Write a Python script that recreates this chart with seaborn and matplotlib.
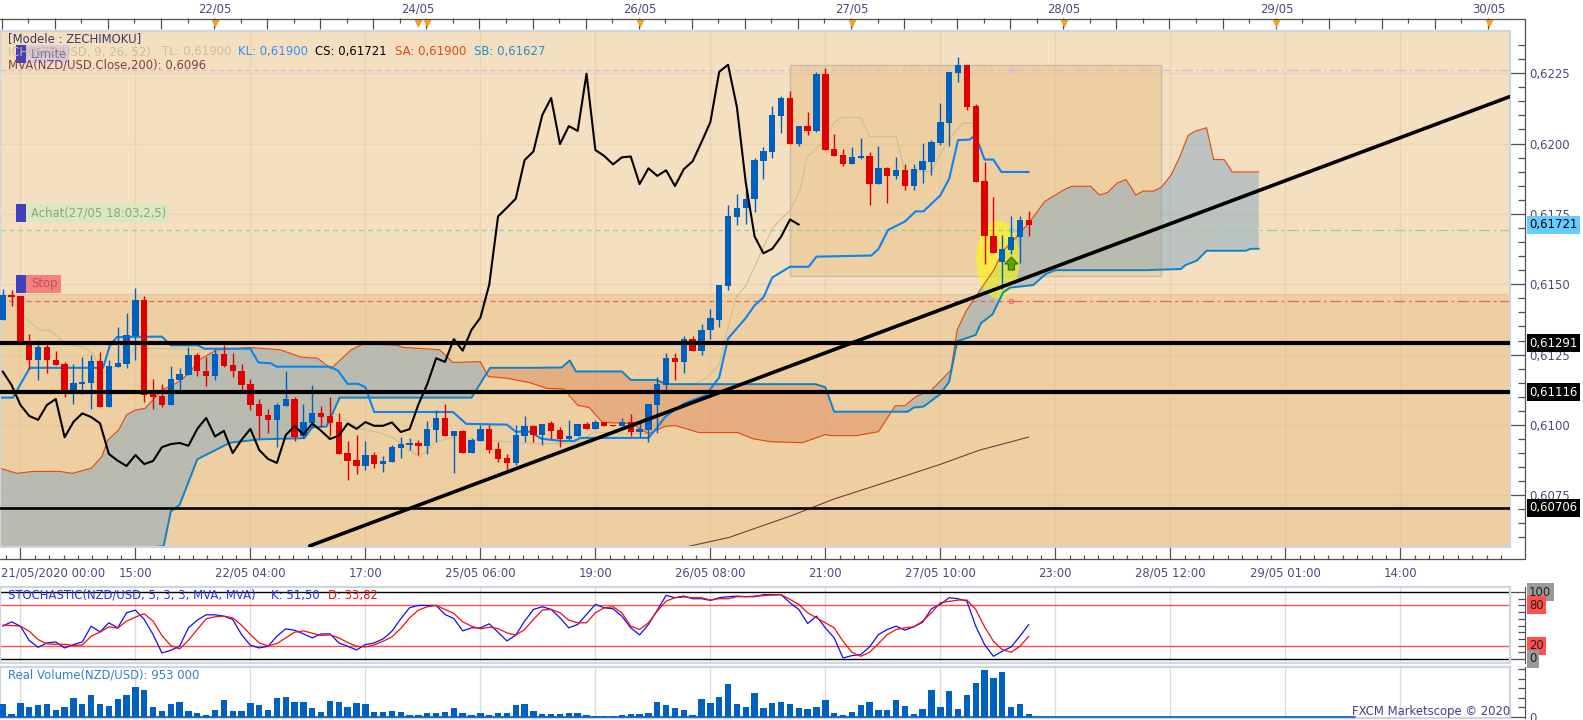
import numpy as np
import matplotlib
matplotlib.use("Agg")
import matplotlib.pyplot as plt
import matplotlib.transforms as mtrans
from matplotlib.lines import Line2D
from matplotlib.patches import Ellipse, Polygon, Rectangle
import seaborn as sns

# NZD/USD hourly, all prices in pips (0.6225 -> 6225)
opens = [6137.3, 6146.2, 6145.9, 6129.3, 6122.9, 6127.6, 6123.1, 6121.7, 6111.7, 6114.6,
         6115.0, 6122.8, 6106.5, 6120.6, 6121.8, 6131.6, 6144.4, 6111.0, 6110.3, 6107.2,
         6116.0, 6117.8, 6124.9, 6119.1, 6117.4, 6125.2, 6121.3, 6119.2, 6114.6, 6107.5,
         6103.5, 6101.8, 6106.8, 6109.2, 6095.9, 6100.6, 6104.1, 6103.2, 6101.1, 6090.0,
         6087.6, 6085.4, 6089.3, 6086.1, 6086.8, 6091.8, 6092.9, 6093.6, 6092.5, 6098.2,
         6102.5, 6095.9, 6097.9, 6090.0, 6094.3, 6098.6, 6091.5, 6088.3, 6086.5, 6096.1,
         6099.5, 6096.3, 6100.7, 6098.1, 6095.0, 6096.0, 6100.5, 6098.6, 6101.0, 6099.9,
         6099.7, 6100.9, 6097.4, 6098.2, 6107.0, 6114.2, 6123.7, 6122.4, 6130.5, 6126.4,
         6133.6, 6137.4, 6149.4, 6173.8, 6177.0, 6180.3, 6193.8, 6197.0, 6209.9, 6216.2,
         6199.8, 6206.2, 6204.3, 6224.8, 6198.0, 6195.8, 6192.6, 6194.8, 6195.5, 6185.6,
         6191.2, 6188.5, 6190.5, 6184.9, 6190.5, 6193.3, 6200.1, 6207.3, 6225.2, 6228.0,
         6213.3, 6186.6, 6167.3, 6157.8, 6162.2, 6166.7, 6173.0]
closes = [6146.2, 6145.6, 6128.8, 6122.9, 6127.6, 6122.9, 6121.3, 6111.8, 6114.8, 6115.3,
          6122.8, 6106.5, 6121.0, 6121.9, 6132.0, 6144.4, 6110.8, 6110.0, 6107.2, 6116.4,
          6118.1, 6124.9, 6119.0, 6117.5, 6125.2, 6121.0, 6119.0, 6114.2, 6107.1, 6103.2,
          6101.8, 6107.1, 6109.2, 6095.6, 6101.1, 6104.1, 6102.8, 6100.6, 6089.7, 6087.3,
          6085.4, 6089.3, 6086.1, 6087.2, 6092.1, 6093.2, 6093.6, 6092.6, 6098.6, 6102.5,
          6095.9, 6097.9, 6090.0, 6094.7, 6098.6, 6091.1, 6087.9, 6086.5, 6096.4, 6099.6,
          6096.6, 6100.5, 6097.9, 6095.0, 6096.2, 6100.5, 6098.6, 6101.0, 6099.7, 6099.7,
          6100.9, 6097.5, 6098.5, 6107.3, 6114.5, 6123.7, 6122.4, 6130.5, 6126.4, 6133.8,
          6138.1, 6149.8, 6174.1, 6177.2, 6180.4, 6194.1, 6197.2, 6210.1, 6216.2, 6199.8,
          6206.2, 6204.5, 6224.8, 6197.7, 6195.6, 6192.6, 6195.1, 6195.4, 6185.6, 6191.2,
          6188.5, 6190.5, 6184.9, 6190.9, 6193.7, 6200.5, 6207.6, 6225.5, 6228.0, 6213.0,
          6186.2, 6167.0, 6161.0, 6162.6, 6166.9, 6173.0, 6171.2]
highs = [6148.3, 6148.0, 6145.9, 6132.3, 6130.2, 6129.7, 6126.3, 6122.5, 6121.7, 6124.1,
         6124.9, 6125.8, 6123.1, 6134.7, 6139.7, 6148.6, 6145.9, 6116.2, 6114.6, 6121.0,
         6120.1, 6127.6, 6125.5, 6124.1, 6126.9, 6128.4, 6125.7, 6121.7, 6116.2, 6109.1,
         6105.6, 6107.7, 6119.0, 6110.1, 6107.5, 6114.2, 6106.8, 6110.1, 6104.4, 6094.3,
         6096.4, 6094.3, 6090.4, 6089.0, 6092.9, 6095.6, 6095.3, 6094.7, 6101.4, 6105.3,
         6107.5, 6097.9, 6098.2, 6095.3, 6100.0, 6100.0, 6093.9, 6089.7, 6100.0, 6103.2,
         6099.9, 6100.5, 6101.3, 6099.3, 6101.7, 6100.5, 6101.0, 6101.7, 6101.0, 6100.0,
         6102.3, 6103.8, 6101.1, 6107.3, 6116.9, 6125.5, 6125.5, 6131.7, 6131.7, 6136.0,
         6141.3, 6149.8, 6178.0, 6181.9, 6183.9, 6194.7, 6198.6, 6213.3, 6216.9, 6218.7,
         6206.2, 6211.2, 6225.4, 6226.8, 6203.3, 6198.0, 6198.7, 6201.9, 6196.9, 6199.0,
         6191.7, 6195.1, 6192.9, 6192.6, 6200.1, 6201.2, 6214.4, 6225.5, 6230.8, 6228.0,
         6214.1, 6193.3, 6180.9, 6167.6, 6174.1, 6174.1, 6175.9]
lows = [6137.3, 6142.3, 6128.8, 6119.8, 6116.0, 6118.6, 6121.3, 6110.1, 6107.5, 6111.0,
        6105.8, 6106.2, 6106.5, 6120.6, 6120.4, 6123.1, 6108.3, 6105.6, 6106.5, 6107.2,
        6112.2, 6117.8, 6117.4, 6113.9, 6116.0, 6120.5, 6117.2, 6111.8, 6105.3, 6095.3,
        6097.3, 6092.3, 6106.8, 6094.4, 6095.3, 6098.8, 6099.2, 6096.1, 6089.7, 6080.4,
        6082.6, 6084.0, 6084.7, 6083.4, 6086.8, 6088.3, 6091.1, 6089.2, 6089.7, 6093.9,
        6095.9, 6083.0, 6090.0, 6090.0, 6094.3, 6090.2, 6087.0, 6083.5, 6085.8, 6093.9,
        6094.0, 6092.8, 6095.1, 6092.2, 6094.5, 6096.0, 6098.6, 6098.6, 6099.7, 6099.6,
        6099.5, 6096.1, 6095.7, 6094.0, 6097.0, 6111.2, 6116.0, 6118.4, 6126.4, 6125.0,
        6130.7, 6134.8, 6147.9, 6171.2, 6171.4, 6175.6, 6187.5, 6194.8, 6203.6, 6199.8,
        6199.2, 6203.0, 6204.1, 6197.7, 6195.6, 6191.9, 6192.6, 6194.5, 6178.0, 6185.6,
        6178.7, 6187.3, 6183.4, 6183.4, 6185.8, 6188.7, 6199.4, 6199.1, 6221.9, 6211.9,
        6186.2, 6157.2, 6161.0, 6148.2, 6160.7, 6157.4, 6167.3]

# ichimoku lines, given at their corners as (bar, price)
kijun_bar = [-0.3, 1.15, 3.06, 11.35, 12.1, 12.9, 18, 19, 22.05, 22.8, 28, 28.9, 30.3, 31, 37, 37.9, 39, 40.2, 41, 42,
             50.9, 52.4, 57, 58, 59.6, 60.9, 63.2, 64.6, 65.3, 73, 73.9, 74.9, 77, 79.5, 81, 82, 84, 85, 86, 87, 89,
             91.1, 92, 98.2, 99, 100.1, 102, 103.2, 104.1, 106, 107, 108, 109.3, 109.8, 110.4, 111, 112, 112.9, 116]
kijun_val = [6109.7, 6109.7, 6120.3, 6120.3, 6128.1, 6131.2, 6131.4, 6128.3, 6128.3, 6127.1, 6127.1, 6122.2, 6121.9,
             6120.7, 6120.7, 6119.3, 6114.6, 6114.6, 6113.4, 6104.6, 6104.6, 6100.4, 6100.1, 6097.6, 6097.6, 6095.1,
             6094.3, 6094.3, 6095.4, 6095.4, 6098.7, 6102.9, 6107.6, 6110.6, 6116.9, 6130.7, 6138.0, 6142.5, 6145.3,
             6152.4, 6156.2, 6156.2, 6159.8, 6160.2, 6162.5, 6169.3, 6172.3, 6175.9, 6175.9, 6181.6, 6187.5, 6201.2,
             6201.4, 6202.6, 6199.4, 6194.3, 6194.3, 6189.9, 6189.9]
tenkan_bar = [0.84, 2.4, 4.1, 5.4, 6.8, 7.7, 9.25, 10.2, 11.2, 12.7, 15, 24.2, 25.7, 28.7, 30.3, 33.3, 35.6, 37.9, 40.2,
              42.9, 44.2, 47.1, 49, 50.9, 59.6, 64.6, 66.9, 68.8, 73, 74.7, 77.6, 79.5, 81, 81.8, 82, 82.9, 84, 86,
              87.1, 89, 90.2, 90.9, 92.8, 94, 94.9, 97, 98, 101, 102, 105, 106, 107.2, 108.5, 109.7, 110.4, 111, 112,
              112.9, 116]
tenkan_val = [6145.6, 6138.5, 6133.8, 6133.5, 6130.0, 6128.4, 6127.6, 6125.2, 6118.1, 6120.7, 6127.3, 6126.7, 6117.2,
              6113.0, 6108.3, 6109.5, 6105.9, 6103.5, 6098.8, 6097.0, 6095.3, 6088.5, 6094.1, 6095.5, 6093.4, 6093.4,
              6097.5, 6097.2, 6096.9, 6110.6, 6113.6, 6116.6, 6121.3, 6132.6, 6134.6, 6145.3, 6149.4, 6163.1, 6170.3,
              6176.2, 6183.9, 6195.2, 6200.6, 6207.4, 6209.3, 6209.3, 6202.5, 6202.5, 6190.1, 6190.1, 6196.4, 6202.4,
              6207.2, 6207.2, 6199.4, 6194.3, 6194.3, 6189.9, 6189.9]
span_a_bar = [-0.3, 1.6, 3.5, 6.4, 7.9, 10, 11.2, 11.9, 13.1, 14, 15, 16.1, 18, 19.6, 21.1, 22.2, 24.2, 28, 31.4, 33.7,
              35.6, 37.1, 39.4, 40.8, 44.6, 45.2, 49.4, 50.9, 54, 54.9, 57, 59.6, 61.5, 63.4, 65, 66.3, 67.8, 71, 73,
              74.9, 76, 78.7, 83.1, 84.8, 86.9, 90.4, 93, 93.6, 96.5, 99, 100.9, 102, 103.2, 105, 107.2, 107.9, 108.9,
              110.4, 112, 113.1, 114.6, 116.2, 117.8, 120.1, 120.9, 123, 124, 124.9, 126, 127, 128.1, 128.9, 130.1,
              131, 132.1, 133.1, 134, 134.8, 136.1, 136.9, 138.1, 139, 142]
span_a_val = [6084.6, 6082.8, 6083.5, 6083.5, 6082.8, 6084.6, 6088.7, 6094.7, 6098.2, 6103.6, 6105.3, 6105.9, 6112.4,
              6114.8, 6118.4, 6123.1, 6126.7, 6127.5, 6126.7, 6124.1, 6123.7, 6120.0, 6126.7, 6128.8, 6128.3, 6127.6,
              6126.7, 6122.2, 6122.5, 6117.2, 6116.6, 6115.0, 6113.0, 6112.8, 6107.0, 6106.2, 6100.9, 6100.5, 6096.9,
              6099.5, 6099.8, 6097.3, 6097.3, 6095.1, 6094.0, 6093.7, 6096.6, 6096.2, 6096.2, 6097.6, 6106.8, 6106.8,
              6110.0, 6112.4, 6119.5, 6133.8, 6140.4, 6147.5, 6154.8, 6161.9, 6166.7, 6172.6, 6179.4, 6183.8, 6184.8,
              6184.8, 6181.7, 6182.6, 6186.0, 6187.2, 6181.7, 6183.1, 6183.1, 6184.5, 6188.9, 6195.5, 6202.9, 6204.4,
              6205.6, 6194.3, 6194.3, 6189.9, 6189.9]
span_b_bar = [-1, 18.2, 19, 20, 22, 25.7, 29.1, 34.1, 35, 36.6, 38.1, 53, 55.1, 59.6, 63.2, 64.1, 64.8, 70, 71, 73.9,
              75, 91.9, 93, 94, 102.3, 103, 104.1, 106, 107, 107.9, 110, 110.6, 111.9, 113.1, 113.9, 116.5, 117.9, 119,
              129.1, 133.2, 133.7, 135, 136.1, 140.5, 141.1, 142]
span_b_val = [6050.0, 6057.0, 6069.2, 6071.6, 6087.8, 6093.7, 6094.9, 6095.3, 6099.2, 6099.4, 6109.7, 6109.7, 6120.3,
              6120.3, 6120.4, 6122.9, 6119.0, 6119.0, 6116.0, 6116.0, 6114.5, 6114.5, 6113.4, 6104.7, 6104.7, 6106.2,
              6106.5, 6111.0, 6115.4, 6129.7, 6132.0, 6136.2, 6139.3, 6147.1, 6148.8, 6149.7, 6153.6, 6155.0, 6155.0,
              6155.4, 6156.8, 6158.4, 6161.9, 6161.9, 6162.6, 6162.6]
mva_bar = [77.3, 82.1, 89.2, 94, 100.5, 106, 110.4, 116]
mva_val = [6056.7, 6060.0, 6067.8, 6073.7, 6080.3, 6086.0, 6091.0, 6095.7]
trend_bar = [34.7, 170.4]
trend_val = [6057.0, 6216.7]
hlines_val = [6129.1, 6111.6, 6070.6]
hlines_txt = ["0,61291", "0,61116", "0,60706"]

stoch_k = [49, 55.5, 49, 27.5, 17.5, 24, 25.5, 16.5, 21.5, 25.5, 49, 40.5, 54, 46.5, 69, 73, 59, 36.5, 9, 13, 19, 46.5,
           58, 66, 66, 64, 59, 36.5, 20.5, 16.5, 19, 34, 45, 43, 37.5, 31.5, 37.5, 37.5, 24, 19, 13.5, 21.5, 24, 30,
           41.5, 60, 76.5, 80, 80, 80, 66.5, 60.5, 42, 46.5, 46.5, 52.5, 40, 27, 35.5, 56.5,
           74, 78, 74, 61.5, 46.5, 51.5, 66.5, 81.5, 76.5, 75, 64, 46.5, 36, 51.5, 73, 95, 91.5, 94, 90, 90, 87.5,
           91.5, 93, 94, 93, 93, 96, 96, 96, 84, 74, 53, 64, 46.5, 31.5, 1.5, 5, 6.5, 18, 36.5, 44, 49, 43, 48, 55,
           75, 81.5, 91.5, 90, 86.5, 49, 21.5, 4, 11.5, 18, 34, 51.5]
stoch_d = [50.5, 50, 49, 41.5, 29, 22.5, 22, 22, 20, 21, 34, 40, 48, 46, 56.5, 62.5, 67.5, 56.5, 35, 20, 15, 28, 44, 60,
           63, 64, 61.5, 50.5, 36.5, 24, 19.5, 23, 31.5, 40, 42, 38.5, 35, 36, 31.5, 24.5, 19, 18, 21, 26.5, 33, 45.5,
           61.5, 73, 78, 80, 74, 68, 55.5, 49, 45, 47.5, 45.5, 39, 35.5, 44,
           59, 73, 74, 69, 58, 54, 54, 69, 76.5, 78, 69, 49, 44, 54, 71.5, 86.5, 91.5, 92.5, 91.5, 91.5, 88, 90, 90,
           93, 93, 94, 94.5, 95.5, 96, 89, 81.5, 69, 61.5, 54, 46.5, 26.5, 10, 4, 10, 23, 36.5, 44, 46.5, 48, 56.5,
           69, 84, 86, 88, 88, 74, 48, 26.5, 14, 10, 19, 33.8]
# real volume in thousands
volume = [4560, 960, 4920, 3480, 4200, 4560, 2400, 3480, 6720, 4560, 7800, 4560, 3840, 6360, 7800, 10680, 9600, 3480,
          2040, 4560, 5280, 2040, 1320, 600, 2400, 6000, 2040, 2040, 4920, 4200, 2400, 6720, 7080, 5280, 5280, 3120,
          1680, 5640, 5280, 3480, 4920, 4560, 1680, 1680, 2040, 1680, 600, 600, 1320, 1320, 1680, 3120, 1320, 600,
          1320, 600, 1320, 1320, 4200, 4560,
          2040, 960, 960, 960, 1320, 1320, 600, 240, 240, 240, 600, 960, 960, 1320, 5280, 4200, 3120, 2400, 600, 6360,
          4920, 7080, 11760, 4560, 3480, 8520, 3120, 4920, 5280, 4560, 3120, 2760, 3480, 6000, 1320, 600, 1680, 4200,
          5280, 2400, 2400, 6000, 3840, 960, 2760, 9600, 3480, 9240, 2760, 7800, 12120, 16800, 13920, 16080, 3480,
          4560, 953]

price_ticks = [6225, 6200, 6175, 6150, 6125, 6100, 6075]
time_bars = [2, 15, 28, 41, 54, 67, 80, 93, 106, 119, 132, 145, 158]
time_txt = ["", "15:00", "22/05 04:00", "17:00", "25/05 06:00", "19:00", "26/05 08:00", "21:00", "27/05 10:00",
            "23:00", "28/05 12:00", "29/05 01:00", "14:00"]
day_bars = [24, 46.9, 72, 96, 120, 144, 168]
day_txt = ["22/05", "24/05", "26/05", "27/05", "28/05", "29/05", "30/05"]
news_bars = [24, 46.9, 48, 72, 96, 120, 144, 168]

W, H = 1583, 720
BG_LIGHT = "#f4dfc0"
BG_DARK = "#eecfa1"
BLUE = "#0060c0"
RED = "#e00000"
TXT = "#4a4a7a"
BORDER = "#cdd5e0"
FS = 8.4

sns.set_theme(style="white")
plt.rcParams["font.family"] = ["DejaVu Sans"]
plt.rcParams["font.size"] = FS

fig = plt.figure(figsize=(W / 100, H / 100), dpi=100, facecolor="white")
PX = mtrans.Affine2D().scale(1 / W, -1 / H).translate(0, 1) + fig.transFigure


def panel(top, bottom):
    ax = fig.add_axes([0, 1 - bottom / H, 1510 / W, (bottom - top) / H])
    ax.set_xlim(-0.305, 170.4)
    for s in ax.spines.values():
        s.set_color(BORDER)
        s.set_linewidth(1.6)
    ax.set_xticks(time_bars, labels=[])
    ax.set_yticks([])
    ax.tick_params(length=0)
    return ax


def right_ticks(ax, major, labels, minor, major_len=11):
    sec = ax.secondary_yaxis(1 + 15 / 1510)
    sec.set_ticks(major, labels=labels)
    sec.set_ticks(minor, minor=True)
    sec.tick_params(which="major", direction="in", length=major_len, width=0.9, color="#505050",
                    labelcolor=TXT, labelsize=FS, pad=3)
    sec.tick_params(which="minor", direction="in", length=5.2, width=0.9, color="#505050")
    sec.spines["right"].set_color("#505050")
    sec.spines["right"].set_linewidth(0.8)
    return sec


def side_label(ax, y, txt, bg, fg):
    ax.text(1529 / 1510, y, txt, transform=ax.get_yaxis_transform(), color=fg, fontsize=FS, va="center", ha="left",
            zorder=20, clip_on=False, bbox=dict(facecolor=bg, edgecolor="none", pad=1.8))


# main price panel
ax = panel(30.7, 546.5)
ax.set_facecolor(BG_LIGHT)
ax.set_ylim(6056.8, 6240.1)
bars = np.arange(len(opens))
o, c, h, l = map(np.array, (opens, closes, highs, lows))

ax.axhspan(6056.8, 6146.4, color=BG_DARK, lw=0, zorder=0)
ax.axhline(6146.4, color="#e0c8a0", lw=0.8, zorder=0.5)
ax.add_patch(Rectangle((89, 6152.9), 42, 75, facecolor=BG_DARK, edgecolor="#c4bcae", lw=1, zorder=0.6))
for t in time_bars:
    ax.axvline(t, color="#d9b98a", alpha=0.3, lw=1, zorder=0.7)
for t in price_ticks:
    ax.axhline(t, color="#d9b98a", alpha=0.3, lw=1, zorder=0.7)

# cloud between the two spans
fine = np.linspace(-0.3, 142, 1500)
sa = np.interp(fine, span_a_bar, span_a_val)
sb = np.interp(fine, span_b_bar, span_b_val)
ax.fill_between(fine, sa, sb, where=sa >= sb, interpolate=True, color="#88a8c0", alpha=0.5, lw=0, zorder=1)
ax.fill_between(fine, sa, sb, where=sa < sb, interpolate=True, color="#e08c60", alpha=0.5, lw=0, zorder=1)
ax.add_patch(Ellipse((112.5, 6158.8), 4.9, 27.6, facecolor="#ffff00", alpha=0.55, edgecolor="none", zorder=1.5))

# order lines, dashed up to the marker and dash-dot after it
for val, col in [(6226.0, "#d8b8e8"), (6169.3, "#98d090"), (6144.0, "#f06060")]:
    ax.plot([-0.3, 114], [val, val], color=col, lw=0.9, ls=(0, (4, 3)), zorder=1.8)
    ax.plot([114, 170.4], [val, val], color=col, lw=0.9, ls=(0, (9, 3, 2, 3)), zorder=1.8)
    ax.plot([114], [val], marker="o", ms=3, mfc="none", mec=col, mew=0.8, zorder=1.8)

line_kw = dict(ax=ax, sort=False, estimator=None, errorbar=None, legend=False)
sns.lineplot(x=tenkan_bar, y=tenkan_val, color="#c8c090", lw=0.8, zorder=2, **line_kw)
sns.lineplot(x=span_a_bar, y=span_a_val, color="#e04a10", lw=0.8, zorder=2.1, **line_kw)
sns.lineplot(x=span_b_bar, y=span_b_val, color="#0a84c8", lw=1.4, zorder=2.1, **line_kw)
sns.lineplot(x=kijun_bar, y=kijun_val, color="#0a84f0", lw=1.5, zorder=2.2, **line_kw)
sns.lineplot(x=mva_bar, y=mva_val, color="#7a3a3a", lw=0.8, zorder=2.2, **line_kw)

up = c >= o
down = ~up
ax.vlines(bars[up], l[up], h[up], color=BLUE, lw=1, zorder=3)
ax.vlines(bars[down], l[down], h[down], color=RED, lw=1, zorder=3)
ax.bar(bars[up], (c - o)[up], bottom=o[up], width=0.72, color=BLUE, lw=0, zorder=3.1)
ax.bar(bars[down], (c - o)[down], bottom=o[down], width=0.72, color=RED, lw=0, zorder=3.1)

# chikou is the close shifted back 26 bars
sns.lineplot(x=bars[:-26], y=c[26:], color="black", lw=1.5, zorder=3.5, **line_kw)

for val, lw in zip(hlines_val, [3, 3, 1.9]):
    ax.axhline(val, color="black", lw=lw, zorder=4)
sns.lineplot(x=trend_bar, y=trend_val, color="black", lw=2.6, zorder=4, **line_kw)
ax.set_xlim(-0.305, 170.4)
ax.set_ylim(6056.8, 6240.1)
ax.set_xlabel("")
ax.set_ylabel("")

sec_main = right_ticks(ax, price_ticks, [f"0,{t}" for t in price_ticks], list(np.arange(6060, 6240, 5)))
sec_main.spines["right"].set_visible(False)
side_label(ax, closes[-1], "0,61721", "#66ccff", "black")
for val, txt in zip(hlines_val, hlines_txt):
    side_label(ax, val, txt, "black", "white")

sec_bot = ax.secondary_xaxis(-12.7 / 515.8)
sec_bot.set_ticks(time_bars, labels=time_txt)
sec_bot.set_ticks(np.arange(-11, 171, 13 / 8), minor=True)
sec_bot.tick_params(which="major", direction="in", length=9.5, width=0.9, color="#505050",
                    labelcolor=TXT, labelsize=FS, pad=5.5)
sec_bot.tick_params(which="minor", direction="in", length=2.8, width=0.9, color="#505050")
sec_bot.spines["bottom"].set_visible(False)

sec_top = ax.secondary_xaxis(1 + 12.2 / 515.8)
sec_top.set_ticks(list(np.arange(-0.1, 171, 6)), labels=[])
sec_top.set_ticks(list(np.arange(2.9, 171, 6)), minor=True)
sec_top.tick_params(which="major", direction="in", length=8, width=0.9, color="#505050")
sec_top.tick_params(which="minor", direction="in", length=3.5, width=0.9, color="#505050")
sec_top.spines["top"].set_visible(False)
for bar, txt in zip(day_bars, day_txt):
    ax.text(bar, 1 + 21.7 / 515.8, txt, transform=ax.get_xaxis_transform(), color=TXT, fontsize=FS, ha="center",
            va="center", clip_on=False)
ax.scatter(news_bars, [1 + 7.5 / 515.8] * len(news_bars), transform=ax.get_xaxis_transform(), marker="v", s=42,
           color="#f8a020", lw=0, clip_on=False, zorder=6)

# stochastic panel
ax_st = panel(587, 663)
ax_st.set_facecolor("white")
ax_st.set_ylim(-6, 107.5)
ax_st.grid(True, axis="x", color="#dcdcdc", lw=1)
for val, col in [(100, "black"), (0, "black"), (80, "#ff5050"), (20, "#ff5050")]:
    ax_st.axhline(val, color=col, lw=1, zorder=1)
st_kw = dict(ax=ax_st, sort=False, estimator=None, errorbar=None, legend=False, zorder=2)
sns.lineplot(x=bars, y=stoch_k, color="#1010f0", lw=0.9, **st_kw)
sns.lineplot(x=bars, y=stoch_d, color="#f01010", lw=0.9, **st_kw)
ax_st.set_xlim(-0.305, 170.4)
ax_st.set_ylim(-6, 107.5)
ax_st.set_xlabel("")
ax_st.set_ylabel("")
right_ticks(ax_st, [0, 100], [], list(range(10, 100, 10)))
for val, bg in [(100, "#9a9a9a"), (80, "#ff5050"), (20, "#ff5050"), (0, "#9a9a9a")]:
    side_label(ax_st, val, str(val), bg, "#202020")

# volume panel
ax_v = panel(667, 718)
ax_v.set_facecolor("white")
ax_v.grid(True, axis="x", color="#dcdcdc", lw=1)
ax_v.bar(bars, volume, width=0.72, color=BLUE, lw=0, zorder=3)
sns.lineplot(x=[-0.3, 152.9], y=[0, 0], color=BLUE, lw=1.2, ax=ax_v, estimator=None, errorbar=None, legend=False, zorder=3)
ax_v.set_xlim(-0.305, 170.4)
ax_v.set_ylim(-470, 17900)
ax_v.set_xticks(time_bars, labels=[])
ax_v.set_xlabel("")
ax_v.set_ylabel("")
ax_v.tick_params(length=0)
right_ticks(ax_v, [0], ["0"], [3400, 6800, 10200, 13600, 17000], major_len=11)

# corners of the tick frame
for xs, ys in [((0, 1525), (18.6, 18.6)), ((0, 1525), (559, 559)), ((1525, 1525), (18.6, 559))]:
    fig.add_artist(Line2D(xs, ys, transform=PX, color="#505050", lw=0.9))

# texts in the chart header
fig.text(1, 572.7, "21/05/2020 00:00", transform=PX, color=TXT, fontsize=FS, va="center")
fig.text(8.5, 39, "[Modele : ZECHIMOKU]", transform=PX, color="#3a3a6a", fontsize=FS, va="center")
for x, txt, col in [(8.5, "ICH(NZD/USD, 9, 26, 52)", "#c8c090"), (161.6, "TL: 0,61900", "#c8c090"),
                    (238.3, "KL: 0,61900", "#3090f0"), (315.4, "CS: 0,61721", "black"),
                    (395.5, "SA: 0,61900", "#e04a10"), (474.3, "SB: 0,61627", "#2090d0")]:
    fig.text(x, 52, txt, transform=PX, color=col, fontsize=FS, va="center")
fig.text(8.5, 65, "MVA(NZD/USD.Close,200): 0,6096", transform=PX, color="#804040", fontsize=FS, va="center")

# order tags
for y0, x1, bg, fg, txt, a in [(45, 69, "#d4c0e8", "#7a7a9a", "Limite", 0.75),
                               (204, 169, "#d8e8c0", "#90a870", "Achat(27/05 18:03,2,5)", 1),
                               (275, 61, "#f48080", "#c05050", "Stop", 1)]:
    fig.add_artist(Rectangle((26, y0), x1 - 26, 18, transform=PX, facecolor=bg, edgecolor="none", alpha=a))
    fig.add_artist(Rectangle((16, y0), 10, 18, transform=PX, facecolor="#4040c0", edgecolor="none"))
    fig.text(31, y0 + 9, txt, transform=PX, color=fg, fontsize=FS, va="center", zorder=5)

# buy arrow
ax.add_patch(Polygon([(1011.4, 257), (1018, 264), (1014.5, 264), (1014.5, 270), (1008.3, 270), (1008.3, 264),
                      (1004.8, 264)], closed=True, transform=PX, facecolor="#58a800", edgecolor="#2a7000", lw=0.8,
                     zorder=5, clip_on=False))

fig.text(8.5, 595.3, "STOCHASTIC(NZD/USD, 5, 3, 3, MVA, MVA)", transform=PX, color="#3030f0", fontsize=FS, va="center")
fig.text(271, 595.3, "K: 51,50", transform=PX, color="#3030f0", fontsize=FS, va="center")
fig.text(328, 595.3, "D: 33,82", transform=PX, color="#f01010", fontsize=FS, va="center")
fig.text(8.5, 675, "Real Volume(NZD/USD): 953 000", transform=PX, color="#3080d0", fontsize=FS, va="center")
fig.text(1510, 711.7, "FXCM Marketscope © 2020", transform=PX, color="#4a3a8a", fontsize=FS, va="center", ha="right")

fig.savefig("out.png", dpi=100)
